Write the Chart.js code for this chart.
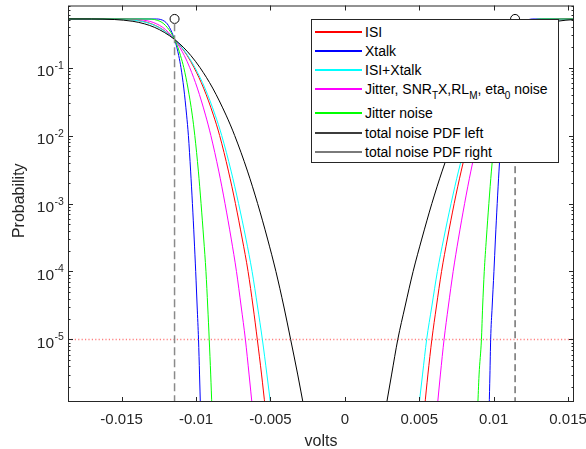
<!DOCTYPE html>
<html>
<head>
<meta charset="utf-8">
<script src="https://cdn.jsdelivr.net/npm/chart.js@4.4.0/dist/chart.umd.min.js"></script>
<style>
  html, body { margin: 0; padding: 0; background: #fff; }
  #wrap { position: relative; width: 586px; height: 449px; }
  #legend {
    position: absolute; left: 311px; top: 19px; width: 248px; height: 144px;
    box-sizing: border-box; background: #fff; border: 1px solid #262626;
    font: 14px "Liberation Sans", Arial, sans-serif; color: #000;
  }
  .row { position: absolute; left: 0; height: 18px; width: 100%; }
  .row .swatch { position: absolute; left: 3px; top: 8px; width: 47px; height: 2px; }
  .row .txt { position: absolute; left: 53px; top: 0; line-height: 18px; white-space: nowrap; }
  .row sub { font-size: 10px; vertical-align: -5px; line-height: 0; }
</style>
</head>
<body>
<div id="wrap">
  <canvas id="chart" width="586" height="449"></canvas>
  <div id="legend"></div>
</div>
<script>
// probability levels shared by every tail curve
const probLevels = [0.52, 0.519, 0.51, 0.48, 0.44, 0.39, 0.33, 0.26, 0.2, 0.15, 0.1, 0.05, 0.02, 0.01,
  3e-3, 1e-3, 3e-4, 1e-4, 3e-5, 1e-5, 3e-6, 1e-6];

// voltage where each curve reaches the level above (left eye edge)
const isiLeftX = [-0.019, -0.01553, -0.01447, -0.01357, -0.01298, -0.01247, -0.01197, -0.01144, -0.01099, -0.01059,
  -0.01013, -0.00949, -0.00883, -0.00841, -0.00782, -0.00735, -0.00689, -0.00650, -0.00616, -0.00588, -0.00559, -0.00535];
const xtalkLeftX = [-0.019, -0.01264, -0.01237, -0.01211, -0.01193, -0.01178, -0.01162, -0.01144, -0.01129, -0.01116,
  -0.01101, -0.01082, -0.01063, -0.01051, -0.01036, -0.01024, -0.01012, -0.01002, -0.00992, -0.00983, -0.00976, -0.00970];
const isiXtalkLeftX = [-0.019, -0.01574, -0.01461, -0.01366, -0.01304, -0.01251, -0.01199, -0.01144, -0.01097, -0.01055,
  -0.01007, -0.00940, -0.00871, -0.00827, -0.00764, -0.00714, -0.00664, -0.00623, -0.00586, -0.00554, -0.00523, -0.00496];
const jitterSnrLeftX = [-0.019, -0.01483, -0.01388, -0.01312, -0.01264, -0.01223, -0.01185, -0.01144, -0.01110, -0.01078,
  -0.01042, -0.00991, -0.00936, -0.00900, -0.00847, -0.00805, -0.00763, -0.00728, -0.00696, -0.00668, -0.00643, -0.00621];
const jitterLeftX = [-0.019, -0.01322, -0.01280, -0.01242, -0.01216, -0.01193, -0.01169, -0.01144, -0.01122, -0.01104,
  -0.01082, -0.01054, -0.01025, -0.01008, -0.00984, -0.00966, -0.00948, -0.00933, -0.00921, -0.00911, -0.00901, -0.00893];
const totalLeftX = [-0.019, -0.01702, -0.01548, -0.01424, -0.01345, -0.01277, -0.01213, -0.01144, -0.01086, -0.01034,
  -0.00973, -0.00888, -0.00798, -0.00740, -0.00654, -0.00586, -0.00519, -0.00463, -0.00409, -0.00364, -0.00316, -0.00275];

// right eye edge
const isiRightX = [0.0155, 0.01553, 0.01447, 0.01357, 0.01298, 0.01247, 0.01197, 0.01144, 0.01099, 0.01059,
  0.01013, 0.00949, 0.00883, 0.00841, 0.00782, 0.00735, 0.00689, 0.00650, 0.00615, 0.00585, 0.00558, 0.00536];
const xtalkRightX = [0.0155, 0.01264, 0.01237, 0.01211, 0.01193, 0.01178, 0.01162, 0.01144, 0.01129, 0.01116,
  0.01101, 0.01082, 0.01063, 0.01051, 0.01036, 0.01024, 0.01012, 0.01002, 0.00990, 0.00980, 0.00975, 0.00970];
const isiXtalkRightX = [0.0155, 0.01574, 0.01461, 0.01366, 0.01304, 0.01251, 0.01199, 0.01144, 0.01097, 0.01055,
  0.01007, 0.00940, 0.00871, 0.00827, 0.00764, 0.00714, 0.00664, 0.00622, 0.00584, 0.00550, 0.00522, 0.00497];
const jitterSnrRightX = [0.0155, 0.01483, 0.01388, 0.01312, 0.01264, 0.01223, 0.01185, 0.01144, 0.01110, 0.01078,
  0.01042, 0.00991, 0.00936, 0.00900, 0.00847, 0.00805, 0.00763, 0.00728, 0.00695, 0.00667, 0.00642, 0.00621];
const jitterRightX = [0.0155, 0.01322, 0.01280, 0.01242, 0.01216, 0.01193, 0.01169, 0.01144, 0.01122, 0.01104,
  0.01082, 0.01054, 0.01025, 0.01008, 0.00985, 0.00968, 0.00951, 0.00937, 0.00926, 0.00918, 0.00902, 0.00893];
const totalRightX = [0.0155, 0.01702, 0.01548, 0.01424, 0.01345, 0.01277, 0.01213, 0.01144, 0.01086, 0.01034,
  0.00973, 0.00888, 0.00798, 0.00740, 0.00654, 0.00585, 0.00517, 0.00459, 0.00404, 0.00356, 0.00314, 0.00276];

// sampling points and target BER
const samplePointX = [-0.01144, 0.01144];
const samplePointY = [0.52, 0.52];
const sampleLineY = [0.45, 1e-7];
const targetBer = 1e-5;

const xRange = [-0.0186, 0.0154];
const yRange = [1.2e-6, 0.82];
const xTickValues = [-0.015, -0.01, -0.005, 0, 0.005, 0.01, 0.015];
const xTickLabels = ['-0.015', '-0.01', '-0.005', '0', '0.005', '0.01', '0.015'];
const yTickExponents = [-5, -4, -3, -2, -1];

const legendNames = ['ISI', 'Xtalk', 'ISI+Xtalk',
  'Jitter, SNR<sub>T</sub>X,RL<sub>M</sub>, eta<sub>0</sub> noise', 'Jitter noise',
  'total noise PDF left', 'total noise PDF right'];
const legendColors = ['#ff0000', '#0000ff', '#00ffff', '#ff00ff', '#00ff00', '#3c3c3c', '#7a7a7a'];
const legendRows = [12.5, 31.5, 51, 70, 94, 113.5, 132.5];

function pts(xs) {
  return xs.map((x, i) => ({ x: x, y: probLevels[i] }));
}

function curve(xs, color, order) {
  return {
    type: 'line', data: pts(xs), borderColor: color, borderWidth: 1,
    pointRadius: 0, cubicInterpolationMode: 'monotone', order: order
  };
}

const datasets = [
  curve(totalLeftX, '#000000', 1), curve(totalRightX, '#000000', 1),
  curve(jitterLeftX, '#00ff00', 2), curve(jitterRightX, '#00ff00', 2),
  curve(jitterSnrLeftX, '#ff00ff', 3), curve(jitterSnrRightX, '#ff00ff', 3),
  curve(isiXtalkLeftX, '#00ffff', 4), curve(isiXtalkRightX, '#00ffff', 4),
  curve(xtalkLeftX, '#0000ff', 5), curve(xtalkRightX, '#0000ff', 5),
  curve(isiLeftX, '#ff0000', 6), curve(isiRightX, '#ff0000', 6),
  {
    type: 'line', data: [{ x: xRange[0], y: targetBer }, { x: xRange[1], y: targetBer }],
    borderColor: '#ff8080', borderWidth: 1.5, borderDash: [1.2, 2.2], pointRadius: 0, order: 7
  },
  {
    type: 'line', data: sampleLineY.map(v => ({ x: samplePointX[0], y: v })),
    borderColor: '#8a8a8a', borderWidth: 1.5, borderDash: [8, 4], pointRadius: 0, order: 0
  },
  {
    type: 'line', data: sampleLineY.map(v => ({ x: samplePointX[1], y: v })),
    borderColor: '#2a2a2a', borderWidth: 1, borderDash: [7, 4], pointRadius: 0, order: 0
  },
  {
    type: 'scatter', data: samplePointX.map((x, i) => ({ x: x, y: samplePointY[i] })),
    pointRadius: 4.5, pointBorderColor: '#000', pointBackgroundColor: 'rgba(0,0,0,0)',
    pointBorderWidth: 1, showLine: false, order: 0
  }
];

// MATLAB style box with inward ticks and 10^n labels
const axesFrame = {
  id: 'axesFrame',
  afterDatasetsDraw(chart) {
    const { ctx, chartArea: a, scales: { x, y } } = chart;
    const font = '"Liberation Sans", Arial, sans-serif';
    ctx.save();
    ctx.strokeStyle = '#262626';
    ctx.fillStyle = '#262626';
    ctx.lineWidth = 1;
    ctx.strokeRect(a.left + 0.5, a.top + 0.5, a.right - a.left - 1, a.bottom - a.top - 1);

    ctx.beginPath();
    xTickValues.forEach(v => {
      const px = Math.round(x.getPixelForValue(v)) + 0.5;
      ctx.moveTo(px, a.bottom); ctx.lineTo(px, a.bottom - 5);
      ctx.moveTo(px, a.top); ctx.lineTo(px, a.top + 5);
    });
    for (let e = -7; e <= 0; e++) {
      for (let m = 1; m <= 9; m++) {
        const v = m * Math.pow(10, e);
        if (v < yRange[0] || v > yRange[1]) continue;
        const py = Math.round(y.getPixelForValue(v)) + 0.5;
        const len = m === 1 ? 5 : 2.5;
        ctx.moveTo(a.left, py); ctx.lineTo(a.left + len, py);
        ctx.moveTo(a.right, py); ctx.lineTo(a.right - len, py);
      }
    }
    ctx.stroke();

    ctx.font = '15px ' + font;
    ctx.textAlign = 'center';
    ctx.textBaseline = 'alphabetic';
    xTickValues.forEach((v, i) => {
      ctx.fillText(xTickLabels[i], x.getPixelForValue(v), 424);
    });

    yTickExponents.forEach(e => {
      const py = y.getPixelForValue(Math.pow(10, e));
      ctx.font = '15.5px ' + font;
      ctx.textAlign = 'right';
      ctx.fillText('10', 54, py + 8.5);
      ctx.font = '10.5px ' + font;
      ctx.textAlign = 'left';
      ctx.fillText(String(e), 54.5, py + 1);
    });

    ctx.font = '16px ' + font;
    ctx.textAlign = 'center';
    ctx.fillText('volts', (a.left + a.right) / 2, 446);
    ctx.translate(24, (a.top + a.bottom) / 2 - 3);
    ctx.rotate(-Math.PI / 2);
    ctx.fillText('Probability', 0, 0);
    ctx.restore();
  }
};

new Chart(document.getElementById('chart'), {
  type: 'line',
  data: { datasets: datasets },
  options: {
    responsive: false,
    animation: false,
    devicePixelRatio: 1,
    layout: { padding: { left: 68, right: 12, top: 3, bottom: 47 } },
    scales: {
      x: { type: 'linear', display: false, min: xRange[0], max: xRange[1] },
      y: { type: 'logarithmic', display: false, min: yRange[0], max: yRange[1] }
    },
    plugins: { legend: { display: false }, tooltip: { enabled: false } }
  },
  plugins: [axesFrame]
});

const legend = document.getElementById('legend');
legendNames.forEach((name, i) => {
  const row = document.createElement('div');
  row.className = 'row';
  row.style.top = (legendRows[i] - 10) + 'px';
  row.innerHTML = '<div class="swatch" style="background:' + legendColors[i] + '"></div>' +
    '<div class="txt">' + name + '</div>';
  legend.appendChild(row);
});
</script>
</body>
</html>
